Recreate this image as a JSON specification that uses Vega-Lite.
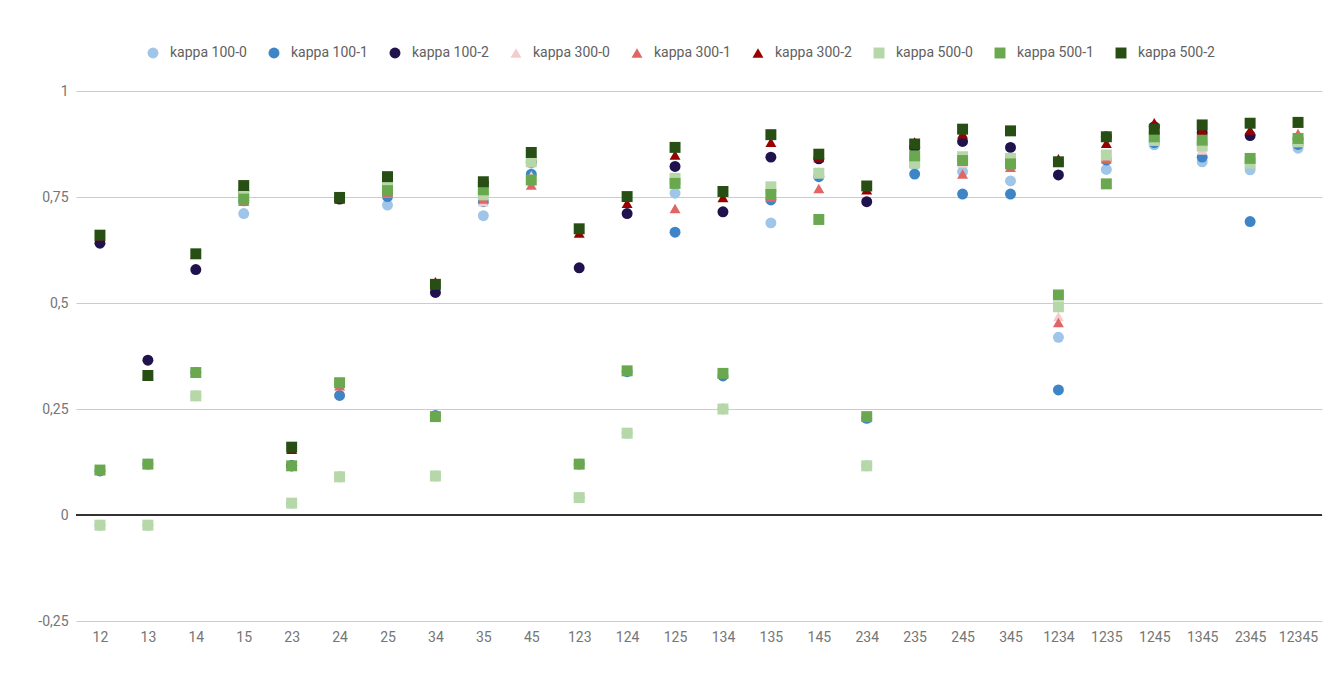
{
  "$schema": "https://vega.github.io/schema/vega-lite/v6.json",
  "width": 1246,
  "height": 530,
  "autosize": {"type": "none"},
  "padding": {"left": 76, "top": 91, "right": 18, "bottom": 54},
  "background": "white",
  "config": {
    "font": "Roboto",
    "view": {"stroke": null},
    "locale": {"number": {"decimal": ",", "thousands": ".", "grouping": [3], "currency": ["", " €"], "minus": "-"}}
  },
  "data": {"values": [
    {"c": "12", "kappa 100-0": -0.024, "kappa 100-1": 0.104, "kappa 100-2": 0.641, "kappa 300-0": -0.024, "kappa 300-1": 0.106, "kappa 300-2": 0.658, "kappa 500-0": -0.024, "kappa 500-1": 0.106, "kappa 500-2": 0.660},
    {"c": "13", "kappa 100-0": -0.024, "kappa 100-1": 0.120, "kappa 100-2": 0.365, "kappa 300-0": -0.024, "kappa 300-1": 0.120, "kappa 300-2": 0.330, "kappa 500-0": -0.024, "kappa 500-1": 0.120, "kappa 500-2": 0.329},
    {"c": "14", "kappa 100-0": 0.281, "kappa 100-1": 0.336, "kappa 100-2": 0.579, "kappa 300-0": 0.281, "kappa 300-1": 0.336, "kappa 300-2": 0.615, "kappa 500-0": 0.281, "kappa 500-1": 0.336, "kappa 500-2": 0.616},
    {"c": "15", "kappa 100-0": 0.711, "kappa 100-1": 0.741, "kappa 100-2": 0.763, "kappa 300-0": 0.740, "kappa 300-1": 0.740, "kappa 300-2": 0.770, "kappa 500-0": 0.757, "kappa 500-1": 0.745, "kappa 500-2": 0.777},
    {"c": "23", "kappa 100-0": 0.028, "kappa 100-1": 0.116, "kappa 100-2": 0.116, "kappa 300-0": 0.028, "kappa 300-1": 0.116, "kappa 300-2": 0.155, "kappa 500-0": 0.028, "kappa 500-1": 0.116, "kappa 500-2": 0.160},
    {"c": "24", "kappa 100-0": 0.090, "kappa 100-1": 0.282, "kappa 100-2": 0.745, "kappa 300-0": 0.090, "kappa 300-1": 0.305, "kappa 300-2": 0.745, "kappa 500-0": 0.090, "kappa 500-1": 0.312, "kappa 500-2": 0.749},
    {"c": "25", "kappa 100-0": 0.731, "kappa 100-1": 0.751, "kappa 100-2": 0.789, "kappa 300-0": 0.760, "kappa 300-1": 0.760, "kappa 300-2": 0.795, "kappa 500-0": 0.781, "kappa 500-1": 0.765, "kappa 500-2": 0.798},
    {"c": "34", "kappa 100-0": 0.092, "kappa 100-1": 0.235, "kappa 100-2": 0.525, "kappa 300-0": 0.092, "kappa 300-1": 0.235, "kappa 300-2": 0.550, "kappa 500-0": 0.092, "kappa 500-1": 0.232, "kappa 500-2": 0.544},
    {"c": "35", "kappa 100-0": 0.706, "kappa 100-1": 0.739, "kappa 100-2": 0.784, "kappa 300-0": 0.739, "kappa 300-1": 0.745, "kappa 300-2": 0.784, "kappa 500-0": 0.755, "kappa 500-1": 0.767, "kappa 500-2": 0.786},
    {"c": "45", "kappa 100-0": 0.830, "kappa 100-1": 0.804, "kappa 100-2": 0.833, "kappa 300-0": 0.800, "kappa 300-1": 0.778, "kappa 300-2": 0.850, "kappa 500-0": 0.833, "kappa 500-1": 0.790, "kappa 500-2": 0.855},
    {"c": "123", "kappa 100-0": 0.041, "kappa 100-1": 0.120, "kappa 100-2": 0.583, "kappa 300-0": 0.041, "kappa 300-1": 0.120, "kappa 300-2": 0.665, "kappa 500-0": 0.041, "kappa 500-1": 0.120, "kappa 500-2": 0.675},
    {"c": "124", "kappa 100-0": 0.193, "kappa 100-1": 0.338, "kappa 100-2": 0.711, "kappa 300-0": 0.193, "kappa 300-1": 0.340, "kappa 300-2": 0.735, "kappa 500-0": 0.193, "kappa 500-1": 0.340, "kappa 500-2": 0.751},
    {"c": "125", "kappa 100-0": 0.759, "kappa 100-1": 0.667, "kappa 100-2": 0.822, "kappa 300-0": 0.790, "kappa 300-1": 0.723, "kappa 300-2": 0.849, "kappa 500-0": 0.794, "kappa 500-1": 0.782, "kappa 500-2": 0.867},
    {"c": "134", "kappa 100-0": 0.250, "kappa 100-1": 0.328, "kappa 100-2": 0.715, "kappa 300-0": 0.250, "kappa 300-1": 0.334, "kappa 300-2": 0.749, "kappa 500-0": 0.250, "kappa 500-1": 0.334, "kappa 500-2": 0.763},
    {"c": "135", "kappa 100-0": 0.689, "kappa 100-1": 0.743, "kappa 100-2": 0.844, "kappa 300-0": 0.770, "kappa 300-1": 0.750, "kappa 300-2": 0.879, "kappa 500-0": 0.774, "kappa 500-1": 0.756, "kappa 500-2": 0.897},
    {"c": "145", "kappa 100-0": 0.800, "kappa 100-1": 0.798, "kappa 100-2": 0.840, "kappa 300-0": 0.810, "kappa 300-1": 0.770, "kappa 300-2": 0.843, "kappa 500-0": 0.806, "kappa 500-1": 0.697, "kappa 500-2": 0.851},
    {"c": "234", "kappa 100-0": 0.116, "kappa 100-1": 0.228, "kappa 100-2": 0.739, "kappa 300-0": 0.116, "kappa 300-1": 0.232, "kappa 300-2": 0.767, "kappa 500-0": 0.116, "kappa 500-1": 0.232, "kappa 500-2": 0.776},
    {"c": "235", "kappa 100-0": 0.825, "kappa 100-1": 0.804, "kappa 100-2": 0.867, "kappa 300-0": 0.830, "kappa 300-1": 0.840, "kappa 300-2": 0.880, "kappa 500-0": 0.830, "kappa 500-1": 0.847, "kappa 500-2": 0.875},
    {"c": "245", "kappa 100-0": 0.810, "kappa 100-1": 0.757, "kappa 100-2": 0.881, "kappa 300-0": 0.830, "kappa 300-1": 0.804, "kappa 300-2": 0.899, "kappa 500-0": 0.845, "kappa 500-1": 0.836, "kappa 500-2": 0.910},
    {"c": "345", "kappa 100-0": 0.788, "kappa 100-1": 0.757, "kappa 100-2": 0.867, "kappa 300-0": 0.830, "kappa 300-1": 0.820, "kappa 300-2": 0.905, "kappa 500-0": 0.841, "kappa 500-1": 0.828, "kappa 500-2": 0.906},
    {"c": "1234", "kappa 100-0": 0.419, "kappa 100-1": 0.295, "kappa 100-2": 0.802, "kappa 300-0": 0.468, "kappa 300-1": 0.454, "kappa 300-2": 0.840, "kappa 500-0": 0.491, "kappa 500-1": 0.519, "kappa 500-2": 0.833},
    {"c": "1235", "kappa 100-0": 0.815, "kappa 100-1": 0.837, "kappa 100-2": 0.892, "kappa 300-0": 0.845, "kappa 300-1": 0.840, "kappa 300-2": 0.877, "kappa 500-0": 0.849, "kappa 500-1": 0.781, "kappa 500-2": 0.892},
    {"c": "1245", "kappa 100-0": 0.873, "kappa 100-1": 0.878, "kappa 100-2": 0.916, "kappa 300-0": 0.882, "kappa 300-1": 0.890, "kappa 300-2": 0.925, "kappa 500-0": 0.885, "kappa 500-1": 0.892, "kappa 500-2": 0.910},
    {"c": "1345", "kappa 100-0": 0.833, "kappa 100-1": 0.844, "kappa 100-2": 0.902, "kappa 300-0": 0.861, "kappa 300-1": 0.880, "kappa 300-2": 0.908, "kappa 500-0": 0.870, "kappa 500-1": 0.884, "kappa 500-2": 0.920},
    {"c": "2345", "kappa 100-0": 0.814, "kappa 100-1": 0.692, "kappa 100-2": 0.895, "kappa 300-0": 0.830, "kappa 300-1": 0.840, "kappa 300-2": 0.908, "kappa 500-0": 0.830, "kappa 500-1": 0.841, "kappa 500-2": 0.924},
    {"c": "12345", "kappa 100-0": 0.865, "kappa 100-1": 0.874, "kappa 100-2": 0.887, "kappa 300-0": 0.880, "kappa 300-1": 0.900, "kappa 300-2": 0.925, "kappa 500-0": 0.880, "kappa 500-1": 0.888, "kappa 500-2": 0.926}
  ]},
  "transform": [
    {"fold": ["kappa 100-0", "kappa 100-1", "kappa 100-2", "kappa 300-0", "kappa 300-1", "kappa 300-2", "kappa 500-0", "kappa 500-1", "kappa 500-2"], "as": ["series", "value"]}
  ],
  "encoding": {
    "x": {
      "field": "c", "type": "ordinal", "sort": null,
      "scale": {"type": "point", "padding": 0.5},
      "axis": {"title": null, "labelAngle": 0, "labelFont": "Roboto", "labelFontSize": 14, "labelColor": "#757575", "labelPadding": 9, "ticks": false, "domain": false, "grid": false}
    },
    "y": {
      "field": "value", "type": "quantitative",
      "scale": {"domain": [-0.25, 1], "nice": false, "zero": false},
      "axis": {"title": null, "values": [-0.25, 0, 0.25, 0.5, 0.75, 1], "format": ".2~f", "labelFont": "Roboto", "labelFontSize": 14, "labelColor": "#757575", "labelPadding": 8, "ticks": false, "domain": false, "grid": true, "gridColor": "#cccccc", "gridWidth": 1}
    }
  },
  "layer": [
    {
      "mark": {"type": "rule", "color": "#333333", "strokeWidth": 1.5},
      "encoding": {"y": {"datum": 0}, "x": null}
    },
    {
      "mark": {"type": "point", "filled": true, "opacity": 1},
      "encoding": {
        "color": {
          "field": "series", "type": "nominal",
          "scale": {
            "domain": ["kappa 100-0", "kappa 100-1", "kappa 100-2", "kappa 300-0", "kappa 300-1", "kappa 300-2", "kappa 500-0", "kappa 500-1", "kappa 500-2"],
            "range": ["#9fc5e8", "#3d85c6", "#20124d", "#f4cccc", "#e06666", "#990000", "#b6d7a8", "#6aa84f", "#274e13"]
          },
          "legend": {
            "title": null, "orient": "none", "direction": "horizontal", "columns": 9,
            "legendX": 70, "legendY": -45, "padding": 0,
            "labelFont": "Roboto", "labelFontSize": 14, "labelColor": "#616161",
            "labelOffset": 10, "columnPadding": 20, "gridAlign": "all", "symbolSize": 120
          }
        },
        "shape": {
          "field": "series", "type": "nominal",
          "scale": {
            "domain": ["kappa 100-0", "kappa 100-1", "kappa 100-2", "kappa 300-0", "kappa 300-1", "kappa 300-2", "kappa 500-0", "kappa 500-1", "kappa 500-2"],
            "range": ["circle", "circle", "circle", "triangle-up", "triangle-up", "triangle-up", "square", "square", "square"]
          }
        },
        "size": {
          "field": "series", "type": "nominal",
          "scale": {
            "domain": ["kappa 100-0", "kappa 100-1", "kappa 100-2", "kappa 300-0", "kappa 300-1", "kappa 300-2", "kappa 500-0", "kappa 500-1", "kappa 500-2"],
            "range": [120, 120, 120, 100, 100, 100, 95, 95, 95]
          },
          "legend": null
        }
      }
    }
  ]
}
